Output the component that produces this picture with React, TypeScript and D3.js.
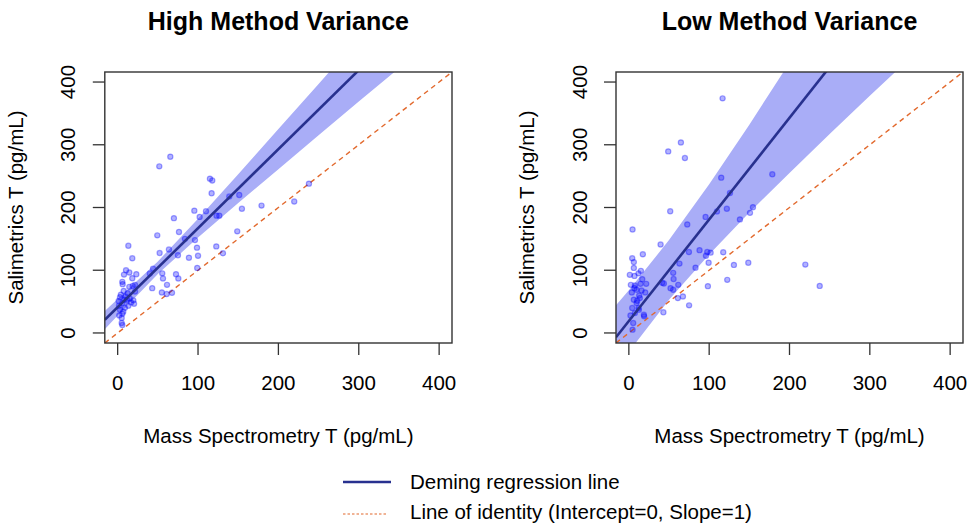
import React from "react";
import * as d3 from "d3";

// ---- data ----
const ticks = [0, 100, 200, 300, 400];
const titles = ["High Method Variance", "Low Method Variance"];
const xLabel = "Mass Spectrometry T (pg/mL)";
const yLabel = "Salimetrics T (pg/mL)";

// High method variance: [mass spec, salimetrics]
const highPoints: [number, number][] = [
  [51.8, 265.6], [65.5, 281], [114.8, 246], [117.7, 243], [116.9, 222.8], [138.9, 217.5],
  [151.3, 220], [95.4, 195], [109.9, 194], [102, 185], [70, 183], [154.6, 198],
  [179, 203], [219.7, 209.5], [238, 238], [123, 187], [126.5, 187], [76.3, 161],
  [49.3, 155.6], [83.7, 150], [96.2, 148], [148.8, 162], [98.7, 136], [122.7, 138],
  [63.8, 133], [52.2, 127.5], [75, 124], [88.7, 120], [100, 123], [131, 127],
  [13.3, 139], [18.2, 119], [99, 103.7], [44, 102.6], [40, 94.7], [55.5, 95],
  [56.4, 86.8], [72.6, 93.7], [75.5, 86.8], [43, 71.4], [61.4, 76.7], [55, 64.6],
  [61, 62], [67.6, 64], [10.4, 100], [14.5, 96.3], [7.9, 93], [18.2, 87.3],
  [23.2, 93.7], [21.6, 76.7], [5.8, 81.5], [6.2, 77.8], [14.5, 73.5], [18.7, 75],
  [7.5, 67], [12.4, 63.5], [2.9, 57], [10, 58], [15, 55], [19.5, 52],
  [20.4, 46.6], [13.3, 43.4], [5.8, 47.6], [1.7, 43.4], [2.9, 37], [7, 34],
  [2, 28], [5.8, 30.7], [5, 15.9], [5.8, 12.7], [8.3, 53], [4, 61],
  [11.6, 53], [1.2, 51], [9, 40], [5, 24], [16.6, 48.7], [21.6, 66],
];

// Low method variance
const lowPoints: [number, number][] = [
  [116.7, 374], [64.8, 303.7], [49, 289.4], [69.8, 278.8], [115, 247.6], [178.6, 253],
  [125.9, 223], [122, 198], [154.5, 200.5], [150.8, 191.5], [109.7, 193.6], [95.5, 185],
  [138.3, 181], [51.5, 194], [72.7, 173], [4.6, 165], [39.5, 141], [17.4, 125.4],
  [74.8, 129], [88, 132], [97.6, 129], [101.8, 128], [96, 123], [117.5, 128.6],
  [99.3, 112], [63, 110.6], [83, 104], [130.8, 108.5], [148.7, 112], [219.7, 109],
  [237.6, 75], [55.2, 95.8], [55.7, 86], [61.5, 76.7], [41.5, 80], [43.6, 78.8],
  [51.9, 71.4], [55.2, 68.8], [122.5, 84.7], [98.4, 74.6], [61, 55.6], [67.3, 58.2],
  [75, 44], [43, 33], [4.2, 119], [6.2, 113], [6.2, 103.7], [1.2, 92.6],
  [7, 91], [12, 95], [15, 99], [16.7, 85.7], [2.5, 76.7], [7.5, 75.7],
  [14.5, 78.3], [21.6, 78.3], [7, 71.4], [9.6, 68.8], [15.8, 67.7], [20.4, 64.6],
  [3.7, 64.6], [12.9, 59.8], [6.2, 53], [10.4, 51.3], [13.7, 55.6], [4.2, 39.7],
  [12, 39.7], [2, 28], [7.5, 31.7], [19, 26.5], [18.7, 29], [5.4, 15.9],
  [4.6, 5.3], [12.5, 37], [9.6, 47.6],
];

// Deming fits [intercept, slope]
const highFit = [41, 1.26];
const lowFit = [19, 1.62];

// confidence band, read at these x positions
const bandX = [-16, 0, 50, 100, 150, 200, 250, 300, 350, 416];
const highLower = [6, 28, 94, 152, 207, 261, 315, 369, 422, 493];
const highUpper = [35, 54, 114, 182, 253, 325, 397, 469, 542, 637];
const lowLower = [-58, -30, 53, 125, 192, 255, 317, 378, 438, 520];
const lowUpper = [44, 68, 148, 237, 332, 431, 531, 632, 734, 870];

const FONT = "'Liberation Sans', Arial, Helvetica, sans-serif";
const NAVY = "#28318f";
const ORANGE = "#e2692d";
const BAND = "#a9adf7";

type PanelProps = {
  id: string;
  title: string;
  points: [number, number][];
  fit: number[];
  lower: number[];
  upper: number[];
  x0: number;
  x1: number;
};

const Panel = ({ id, title, points, fit, lower, upper, x0, x1 }: PanelProps) => {
  const x = d3.scaleLinear().domain([-16, 416]).range([x0, x1]);
  const y = d3.scaleLinear().domain([-16, 416]).range([343, 72]);
  const [top, bottom] = y.range().slice().reverse();

  const area = d3
    .area<number>()
    .x((d) => x(d))
    .y0((_, i) => y(lower[i]))
    .y1((_, i) => y(upper[i]));

  const xs = [-16, 416];
  const cx = (x0 + x1) / 2;

  return (
    <g>
      <defs>
        <clipPath id={id}>
          <rect x={x0} y={top} width={x1 - x0} height={bottom - top} />
        </clipPath>
      </defs>
      <text x={cx} y={30} textAnchor="middle" fontWeight="bold" fontSize={25}>
        {title}
      </text>
      <g clipPath={`url(#${id})`}>
        <path d={area(bandX) || ""} fill={BAND} />
        <line
          x1={x(xs[0])} y1={y(xs[0])} x2={x(xs[1])} y2={y(xs[1])}
          stroke={ORANGE} strokeWidth={1.4} strokeDasharray="5 4"
        />
        {points.map((p, i) => (
          <circle
            key={i} cx={x(p[0])} cy={y(p[1])} r={2.6}
            fill="rgba(0,0,255,0.3)" stroke="rgba(0,0,255,0.35)" strokeWidth={1.2}
          />
        ))}
        <line
          x1={x(xs[0])} y1={y(fit[0] + fit[1] * xs[0])}
          x2={x(xs[1])} y2={y(fit[0] + fit[1] * xs[1])}
          stroke={NAVY} strokeWidth={2.6}
        />
      </g>
      <rect x={x0} y={top} width={x1 - x0} height={bottom - top} fill="none" stroke="#333" strokeWidth={1.4} />
      {ticks.map((t) => (
        <g key={"x" + t}>
          <line x1={x(t)} x2={x(t)} y1={bottom} y2={bottom + 12} stroke="#333" strokeWidth={1.3} />
          <text x={x(t)} y={390} textAnchor="middle" fontSize={20.5}>{t}</text>
        </g>
      ))}
      {ticks.map((t) => (
        <g key={"y" + t}>
          <line x1={x0 - 12} x2={x0} y1={y(t)} y2={y(t)} stroke="#333" strokeWidth={1.3} />
          <text transform={`translate(${x0 - 29.5},${y(t)}) rotate(-90)`} textAnchor="middle" fontSize={20.5}>{t}</text>
        </g>
      ))}
      <text x={cx} y={443} textAnchor="middle" fontSize={20.5}>{xLabel}</text>
      <text transform={`translate(${x0 - 82},${(top + bottom) / 2}) rotate(-90)`} textAnchor="middle" fontSize={20.5}>
        {yLabel}
      </text>
    </g>
  );
};

export default function App() {
  return (
    <svg
      width={968}
      height={524}
      style={{ position: "absolute", left: 0, top: 0, background: "#fff" }}
      fontFamily={FONT}
      fill="#000"
    >
      <Panel id="clipHigh" title={titles[0]} points={highPoints} fit={highFit} lower={highLower} upper={highUpper} x0={104.8} x1={452} />
      <Panel id="clipLow" title={titles[1]} points={lowPoints} fit={lowFit} lower={lowLower} upper={lowUpper} x0={616} x1={963} />
      <g fontSize={20.5}>
        <line x1={343} x2={391} y1={482} y2={482} stroke={NAVY} strokeWidth={2.6} />
        <text x={410} y={489}>Deming regression line</text>
        <line x1={343} x2={386} y1={514} y2={514} stroke={ORANGE} strokeWidth={1.2} strokeDasharray="2.5 2" />
        <text x={410} y={519}>Line of identity (Intercept=0, Slope=1)</text>
      </g>
    </svg>
  );
}
